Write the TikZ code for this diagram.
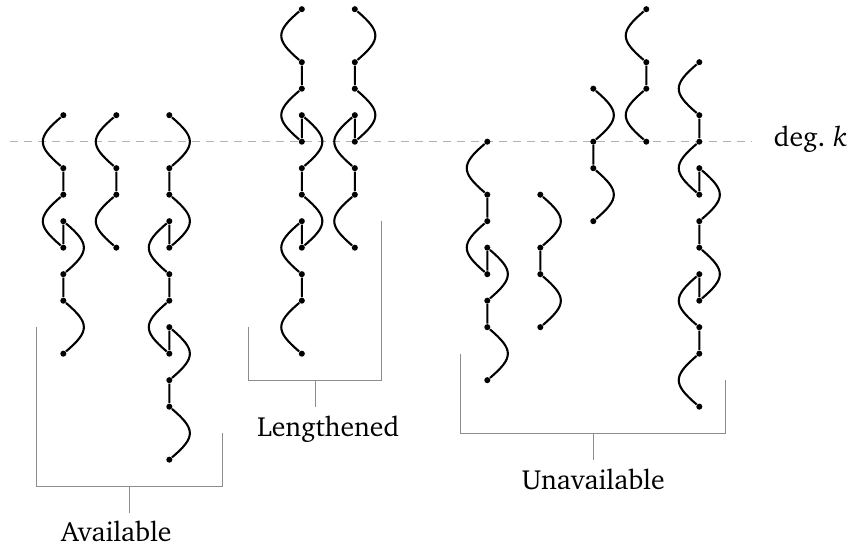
\documentclass[tikz,border=0pt]{standalone}
\usepackage[T1]{fontenc}
\renewcommand{\rmdefault}{bch}
\usetikzlibrary{calc}
\tikzset{
  dot/.style={circle, fill=black, inner sep=0pt, minimum size=2.6pt},
  chainline/.style={line width=0.9pt},
  wl/.style={to path={.. controls +(-1,-0.85) and +(-1,0.85) .. (\tikztotarget) \tikztonodes}},
  wr/.style={to path={.. controls +(1,-0.85) and +(1,0.85) .. (\tikztotarget) \tikztonodes}},
  degline/.style={dash pattern=on 3.4pt off 2.6pt, line width=0.6pt, color=black!30},
  bracket/.style={line width=0.45pt, color=black!45},
  lab/.style={font=\fontsize{11.9}{14}\selectfont, anchor=base, inner sep=0pt}
}
\begin{document}
\begin{tikzpicture}[x=0.4cm, y=0.4cm]
\useasboundingbox (-2.39,-15.29) rectangle (29.65,5.347);
% degree line
\coordinate (dl) at (-2,0);
\coordinate (dr) at (26,0);
\draw[degline] (dl) -- (dr);
\node[lab, anchor=base west] (deg) at (26.8,-0.19) {deg.\ \textit{k}};
% column 1
\node[dot] (a1) at (0,1) {}; \node[dot] (a2) at (0,-1) {}; \node[dot] (a3) at (0,-2) {};
\node[dot] (a4) at (0,-4) {}; \node[dot] (a5) at (0,-3) {}; \node[dot] (a6) at (0,-5) {};
\node[dot] (a7) at (0,-6) {}; \node[dot] (a8) at (0,-8) {};
\draw[chainline] (a1) to[wl] (a2) -- (a3) to[wl] (a4) -- (a5) to[wr] (a6) -- (a7) to[wr] (a8);
% column 2
\node[dot] (b1) at (2,1) {}; \node[dot] (b2) at (2,-1) {}; \node[dot] (b3) at (2,-2) {};
\node[dot] (b4) at (2,-4) {};
\draw[chainline] (b1) to[wl] (b2) -- (b3) to[wl] (b4);
% column 3
\node[dot] (c1) at (4,1) {}; \node[dot] (c2) at (4,-1) {}; \node[dot] (c3) at (4,-2) {};
\node[dot] (c4) at (4,-4) {}; \node[dot] (c5) at (4,-3) {}; \node[dot] (c6) at (4,-5) {};
\node[dot] (c7) at (4,-6) {}; \node[dot] (c8) at (4,-8) {}; \node[dot] (c9) at (4,-7) {};
\node[dot] (c10) at (4,-9) {}; \node[dot] (c11) at (4,-10) {}; \node[dot] (c12) at (4,-12) {};
\draw[chainline] (c1) to[wr] (c2) -- (c3) to[wr] (c4) -- (c5) to[wl] (c6) -- (c7) to[wl] (c8)
  -- (c9) to[wr] (c10) -- (c11) to[wr] (c12);
% column 4
\node[dot] (d1) at (9,5) {}; \node[dot] (d2) at (9,3) {}; \node[dot] (d3) at (9,2) {};
\node[dot] (d4) at (9,0) {}; \node[dot] (d5) at (9,1) {}; \node[dot] (d6) at (9,-1) {};
\node[dot] (d7) at (9,-2) {}; \node[dot] (d8) at (9,-4) {}; \node[dot] (d9) at (9,-3) {};
\node[dot] (d10) at (9,-5) {}; \node[dot] (d11) at (9,-6) {}; \node[dot] (d12) at (9,-8) {};
\draw[chainline] (d1) to[wl] (d2) -- (d3) to[wl] (d4) -- (d5) to[wr] (d6) -- (d7) to[wr] (d8)
  -- (d9) to[wl] (d10) -- (d11) to[wl] (d12);
% column 5
\node[dot] (e1) at (11,5) {}; \node[dot] (e2) at (11,3) {}; \node[dot] (e3) at (11,2) {};
\node[dot] (e4) at (11,0) {}; \node[dot] (e5) at (11,1) {}; \node[dot] (e6) at (11,-1) {};
\node[dot] (e7) at (11,-2) {}; \node[dot] (e8) at (11,-4) {};
\draw[chainline] (e1) to[wr] (e2) -- (e3) to[wr] (e4) -- (e5) to[wl] (e6) -- (e7) to[wl] (e8);
% column 6
\node[dot] (f1) at (16,0) {}; \node[dot] (f2) at (16,-2) {}; \node[dot] (f3) at (16,-3) {};
\node[dot] (f4) at (16,-5) {}; \node[dot] (f5) at (16,-4) {}; \node[dot] (f6) at (16,-6) {};
\node[dot] (f7) at (16,-7) {}; \node[dot] (f8) at (16,-9) {};
\draw[chainline] (f1) to[wl] (f2) -- (f3) to[wl] (f4) -- (f5) to[wr] (f6) -- (f7) to[wr] (f8);
% column 7
\node[dot] (g1) at (18,-2) {}; \node[dot] (g2) at (18,-4) {}; \node[dot] (g3) at (18,-5) {};
\node[dot] (g4) at (18,-7) {};
\draw[chainline] (g1) to[wr] (g2) -- (g3) to[wr] (g4);
% column 8
\node[dot] (h1) at (20,2) {}; \node[dot] (h2) at (20,0) {}; \node[dot] (h3) at (20,-1) {};
\node[dot] (h4) at (20,-3) {};
\draw[chainline] (h1) to[wr] (h2) -- (h3) to[wr] (h4);
% column 9
\node[dot] (i1) at (22,5) {}; \node[dot] (i2) at (22,3) {}; \node[dot] (i3) at (22,2) {};
\node[dot] (i4) at (22,0) {};
\draw[chainline] (i1) to[wl] (i2) -- (i3) to[wl] (i4);
% column 10
\node[dot] (j1) at (24,3) {}; \node[dot] (j2) at (24,1) {}; \node[dot] (j3) at (24,0) {};
\node[dot] (j4) at (24,-2) {}; \node[dot] (j5) at (24,-1) {}; \node[dot] (j6) at (24,-3) {};
\node[dot] (j7) at (24,-4) {}; \node[dot] (j8) at (24,-6) {}; \node[dot] (j9) at (24,-5) {};
\node[dot] (j10) at (24,-7) {}; \node[dot] (j11) at (24,-8) {}; \node[dot] (j12) at (24,-10) {};
\draw[chainline] (j1) to[wl] (j2) -- (j3) to[wl] (j4) -- (j5) to[wr] (j6) -- (j7) to[wr] (j8)
  -- (j9) to[wl] (j10) -- (j11) to[wl] (j12);
% bracket: Available
\coordinate (av1) at (-1,-7); \coordinate (av2) at (-1,-13);
\coordinate (av3) at (6,-13); \coordinate (av4) at (6,-11);
\coordinate (avt1) at (2.5,-13); \coordinate (avt2) at (2.5,-14);
\draw[bracket] (av1) -- (av2) -- (av3) -- (av4);
\draw[bracket] (avt1) -- (avt2);
\node[lab] (avl) at (2,-15.09) {Available};
% bracket: Lengthened
\coordinate (le1) at (7,-7); \coordinate (le2) at (7,-9);
\coordinate (le3) at (12,-9); \coordinate (le4) at (12,-3);
\coordinate (let1) at (9.5,-9); \coordinate (let2) at (9.5,-10);
\draw[bracket] (le1) -- (le2) -- (le3) -- (le4);
\draw[bracket] (let1) -- (let2);
\node[lab] (lel) at (10,-11.13) {Lengthened};
% bracket: Unavailable
\coordinate (un1) at (15,-8); \coordinate (un2) at (15,-11);
\coordinate (un3) at (25,-11); \coordinate (un4) at (25,-9);
\coordinate (unt1) at (20,-11); \coordinate (unt2) at (20,-12);
\draw[bracket] (un1) -- (un2) -- (un3) -- (un4);
\draw[bracket] (unt1) -- (unt2);
\node[lab] (unl) at (20,-13.12) {Unavailable};
\end{tikzpicture}
\end{document}
